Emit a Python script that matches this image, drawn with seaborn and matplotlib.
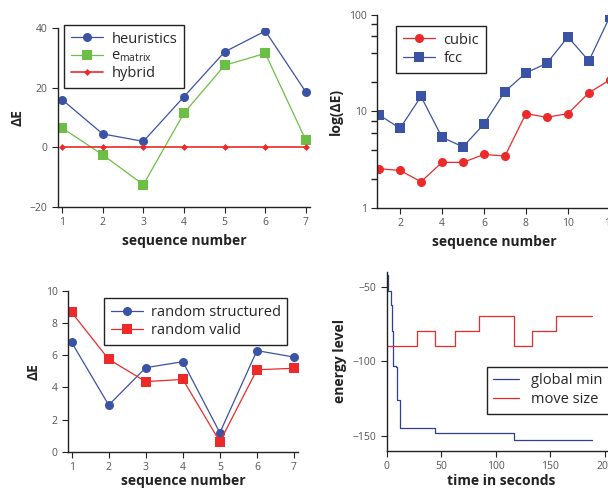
import numpy as np
import pandas as pd
import seaborn as sns
import matplotlib
matplotlib.use("Agg")
import matplotlib.pyplot as plt
from matplotlib.ticker import LogLocator, FuncFormatter, NullFormatter

# data
seq7 = [1, 2, 3, 4, 5, 6, 7]
heuristics = [16, 4.5, 2, 17, 32, 39, 18.5]
e_matrix = [6.5, -2.5, -12.5, 11.5, 27.5, 31.5, 2.3]
hybrid = [0, 0, 0, 0, 0, 0, 0]

seq12 = [1, 2, 3, 4, 5, 6, 7, 8, 9, 10, 11, 12]
cubic = [2.55, 2.45, 1.87, 2.97, 2.97, 3.59, 3.45, 9.5, 8.7, 9.5, 15.6, 21.3]
fcc = [9.2, 6.7, 14.3, 5.4, 4.3, 7.4, 16.1, 25.1, 31.6, 59.2, 33.4, 96]

rand_structured = [6.8, 2.9, 5.23, 5.6, 1.18, 6.29, 5.89]
rand_valid = [8.67, 5.75, 4.36, 4.5, 0.62, 5.1, 5.19]

gmin_t = [0.5, 1.5, 4.0, 4.6, 5.2, 5.6, 6.0, 8.5, 9.7, 11.8, 44.5, 117, 188]
gmin_e = [-42, -53, -62, -70, -80, -95, -103, -104, -126, -145, -148, -153, -153]
move_t = [0, 28, 44.5, 62.5, 85, 117, 133, 155.5, 188]
move_e = [-90, -80, -90, -80, -70, -90, -80, -70, -70]

BLUE = "#3b53a4"
NAVY = "#2d4190"
GREEN = "#6cbf45"
RED = "#ec2a2a"

sns.set_style("ticks")
plt.rcParams['font.family'] = ['Open Sans', 'DejaVu Sans']
plt.rcParams['mathtext.default'] = 'regular'
plt.rcParams['axes.edgecolor'] = '#222222'
plt.rcParams['axes.linewidth'] = 1.0
plt.rcParams['xtick.color'] = '#222222'
plt.rcParams['ytick.color'] = '#222222'
plt.rcParams['xtick.labelcolor'] = '#555555'
plt.rcParams['ytick.labelcolor'] = '#555555'
plt.rcParams['xtick.labelsize'] = 7.5
plt.rcParams['ytick.labelsize'] = 7.5
plt.rcParams['xtick.major.size'] = 4
plt.rcParams['ytick.major.size'] = 4

fig = plt.figure(figsize=(6.08, 4.95), dpi=100)

ax1 = fig.add_axes([0.0954, 0.5818, 0.4145, 0.3616])
ax2 = fig.add_axes([0.620, 0.5798, 0.3865, 0.390])
ax3 = fig.add_axes([0.1118, 0.0875, 0.3778, 0.3246])
ax4 = fig.add_axes([0.636, 0.0895, 0.377, 0.3616])

lab_kw = dict(fontsize=10, fontweight='bold', color='#222222')
leg_kw = dict(fontsize=10.5, frameon=True, fancybox=False, edgecolor='#222222',
              framealpha=1, borderpad=0.45, borderaxespad=0,
              loc='upper left')

# top left
sns.lineplot(x=seq7, y=heuristics, ax=ax1, color=BLUE, marker='o', markersize=6.5,
             markeredgewidth=0, lw=0.9, label='heuristics')
sns.lineplot(x=seq7, y=e_matrix, ax=ax1, color=GREEN, marker='s', markersize=6.5,
             markeredgewidth=0, lw=0.9, label='e$_{matrix}$')
sns.lineplot(x=seq7, y=hybrid, ax=ax1, color=RED, marker='D', markersize=3.5,
             markeredgewidth=0, lw=1.2, label='hybrid')
ax1.set_xlim(0.9, 7.1)
ax1.set_ylim(-20, 40)
ax1.set_xticks(seq7)
ax1.set_yticks([-20, 0, 20, 40])
ax1.set_xlabel('sequence number', **lab_kw)
ax1.set_ylabel('ΔE', **lab_kw)
ax1.legend(bbox_to_anchor=(0.024, 1.017), labelspacing=0.15, handlelength=2.2,
           handletextpad=0.6, **leg_kw)

# top right
sns.lineplot(x=seq12, y=cubic, ax=ax2, color=RED, marker='o', markersize=6.5,
             markeredgewidth=0, lw=0.9, label='cubic')
sns.lineplot(x=seq12, y=fcc, ax=ax2, color=BLUE, marker='s', markersize=6.5,
             markeredgewidth=0, lw=0.9, label='fcc')
ax2.set_yscale('log')
ax2.set_xlim(0.9, 12.1)
ax2.set_ylim(1, 100)
ax2.set_xticks([2, 4, 6, 8, 10, 12])
ax2.yaxis.set_major_locator(LogLocator(base=10))
ax2.yaxis.set_major_formatter(FuncFormatter(lambda v, p: f"{v:g}"))
ax2.yaxis.set_minor_locator(LogLocator(base=10, subs=[2, 4, 6, 8]))
ax2.yaxis.set_minor_formatter(NullFormatter())
ax2.tick_params(axis='y', which='minor', length=4, width=1)
ax2.set_xlabel('sequence number', **lab_kw)
ax2.set_ylabel('log(ΔE)', **lab_kw)
ax2.legend(bbox_to_anchor=(0.081, 0.943), labelspacing=0.25, handlelength=2.2,
           handletextpad=0.6, **leg_kw)

# bottom left
sns.lineplot(x=seq7, y=rand_structured, ax=ax3, color=BLUE, marker='o', markersize=6.5,
             markeredgewidth=0, lw=0.9, label='random structured')
sns.lineplot(x=seq7, y=rand_valid, ax=ax3, color=RED, marker='s', markersize=6.5,
             markeredgewidth=0, lw=0.9, label='random valid')
ax3.set_xlim(0.9, 7.1)
ax3.set_ylim(0, 10)
ax3.set_xticks(seq7)
ax3.set_yticks([0, 2, 4, 6, 8, 10])
ax3.set_xlabel('sequence number', labelpad=1, **lab_kw)
ax3.set_ylabel('ΔE', **lab_kw)
ax3.legend(bbox_to_anchor=(0.157, 0.956), labelspacing=0.25, handlelength=2.2,
           handletextpad=0.55, **leg_kw)

# bottom right
sns.lineplot(x=gmin_t, y=gmin_e, ax=ax4, color=NAVY, lw=0.9, drawstyle='steps-post',
             label='global min')
sns.lineplot(x=move_t, y=move_e, ax=ax4, color=RED, lw=0.9, drawstyle='steps-post',
             label='move size')
ax4.set_xlim(0, 210)
ax4.set_ylim(-160, -40)
ax4.set_xticks([0, 50, 100, 150, 200])
ax4.set_yticks([-150, -100, -50])
ax4.set_xlabel('time in seconds', labelpad=1, **lab_kw)
ax4.set_ylabel('energy level', **lab_kw)
ax4.legend(bbox_to_anchor=(0.437, 0.468), labelspacing=0.25, handlelength=1.75,
           handletextpad=0.8, **leg_kw)

for ax in (ax1, ax2, ax3, ax4):
    sns.despine(ax=ax)
    ax.tick_params(which='both', direction='out')

fig.savefig('out.png', dpi=100)
